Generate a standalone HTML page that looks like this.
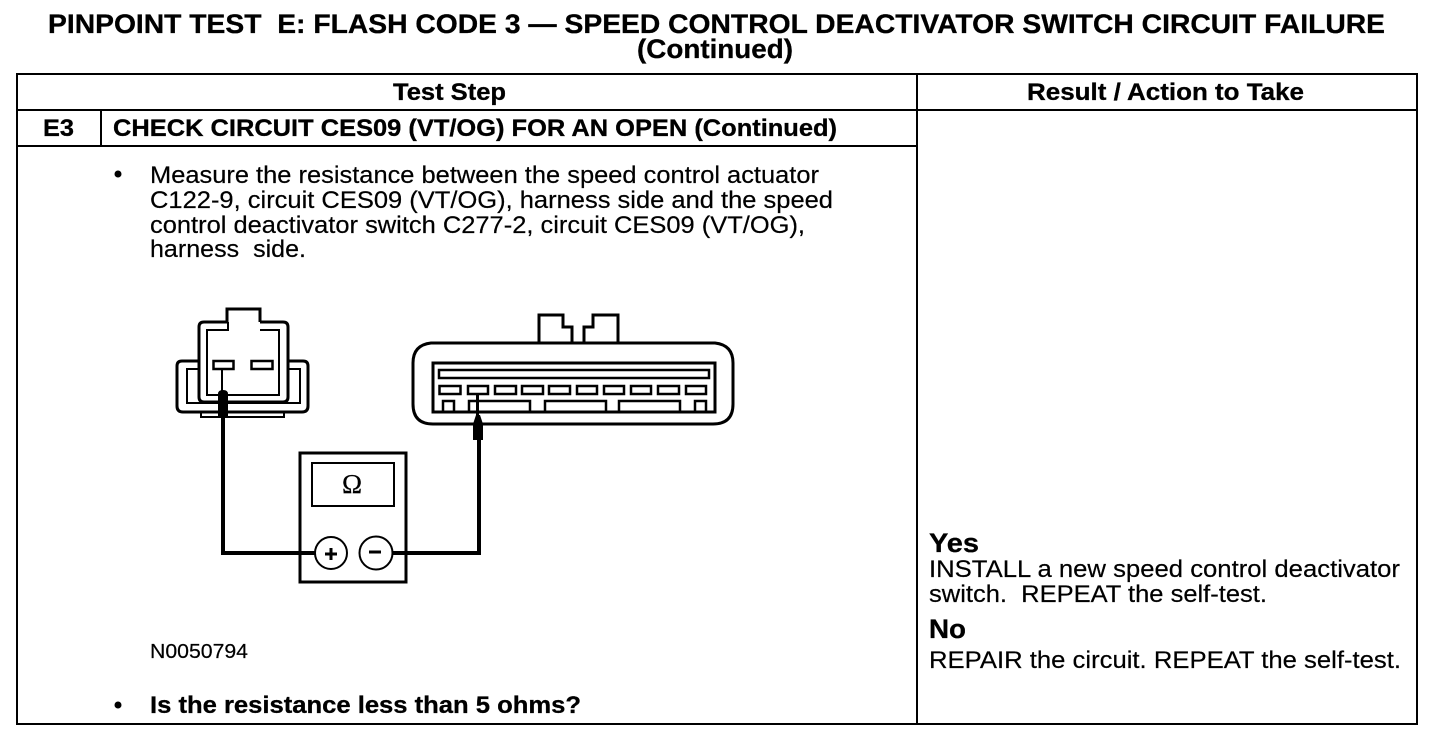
<!DOCTYPE html>
<html><head><meta charset="utf-8"><style>
html,body{margin:0;padding:0;background:#fff}
svg{display:block}
text{font-family:"Liberation Sans",sans-serif;fill:#000;stroke:#000;stroke-width:.2px}
.b{font-weight:bold;stroke-width:.3px}
</style></head><body>
<svg width="1456" height="740" viewBox="0 0 1456 740" xmlns="http://www.w3.org/2000/svg">
<rect width="1456" height="740" fill="#fff"/>
<text class="b" x="48" y="33" font-size="27" textLength="1337" lengthAdjust="spacingAndGlyphs">PINPOINT TEST&#160; E: FLASH CODE 3 — SPEED CONTROL DEACTIVATOR SWITCH CIRCUIT FAILURE</text>
<text class="b" x="637" y="58" font-size="27" textLength="156" lengthAdjust="spacingAndGlyphs">(Continued)</text>
<g fill="none" stroke="#000" stroke-width="2">
<rect x="17" y="74" width="1400" height="650"/>
<path d="M17 110H1417M917 74V724M17 146H917M101 110V146"/>
</g>
<text class="b" x="393" y="100" font-size="24" textLength="113" lengthAdjust="spacingAndGlyphs">Test Step</text>
<text class="b" x="1027" y="100" font-size="24" textLength="277" lengthAdjust="spacingAndGlyphs">Result / Action to Take</text>
<text class="b" x="43" y="136" font-size="24" textLength="31" lengthAdjust="spacingAndGlyphs">E3</text>
<text class="b" x="113" y="136" font-size="24" textLength="724" lengthAdjust="spacingAndGlyphs">CHECK CIRCUIT CES09 (VT/OG) FOR AN OPEN (Continued)</text>
<circle cx="118" cy="174" r="3.500" fill="#000"/>
<text x="150" y="183" font-size="24" textLength="669" lengthAdjust="spacingAndGlyphs">Measure the resistance between the speed control actuator</text>
<text x="150" y="208" font-size="24" textLength="683" lengthAdjust="spacingAndGlyphs">C122-9, circuit CES09 (VT/OG), harness side and the speed</text>
<text x="150" y="233" font-size="24" textLength="655" lengthAdjust="spacingAndGlyphs">control deactivator switch C277-2, circuit CES09 (VT/OG),</text>
<text x="150" y="257" font-size="24" textLength="156" lengthAdjust="spacingAndGlyphs">harness&#160; side.</text>
<g fill="none" stroke="#000">
<path d="M199 361H182Q177 361 177 366V406Q177 412 183 412H302Q308 412 308 406V366Q308 361 303 361H288" stroke-width="3"/>
<path d="M199 369H187V403H300V369H288" stroke-width="2"/>
<path d="M227 322V309H260V322" stroke-width="3"/>
<path d="M204 322H227M260 322H283Q288 322 288 327V397Q288 402 283 402H204Q199 402 199 397V327Q199 322 204 322" stroke-width="3"/>
<path d="M228 322V330H207V395H279V330H260" stroke-width="2"/>
<rect x="213.500" y="361" width="20" height="8" stroke-width="2.500"/>
<rect x="251.500" y="361" width="21" height="8" stroke-width="2.500"/>
<path d="M201 412V417H284V412" stroke-width="2"/>
</g>
<path d="M222 369V392" stroke="#000" stroke-width="2"/>
<path d="M218 417V394Q218 390 223 390Q228 390 228 394V417Z" fill="#000"/>
<path d="M223 417V553H315M392 553H479V440" fill="none" stroke="#000" stroke-width="4"/>
<g fill="none" stroke="#000">
<path d="M431 343H715Q733 345 733 363V404Q733 424 713 424H433Q413 424 413 404V363Q413 345 431 343Z" stroke-width="3"/>
<path d="M539 343V315H563V327H572V343M584 343V327H593V315H618V343" stroke-width="3"/>
<rect x="433" y="363" width="282" height="49" stroke-width="3"/>
<rect x="439" y="370" width="270" height="8" stroke-width="2.500"/>
<g stroke-width="2.500">
<rect x="439.500" y="386" width="21" height="8"/>
<rect x="468" y="386" width="20" height="8"/>
<rect x="495" y="386" width="21" height="8"/>
<rect x="522" y="386" width="21" height="8"/>
<rect x="549" y="386" width="21" height="8"/>
<rect x="577" y="386" width="20" height="8"/>
<rect x="604" y="386" width="20" height="8"/>
<rect x="631" y="386" width="20" height="8"/>
<rect x="658" y="386" width="21" height="8"/>
<rect x="686" y="386" width="20" height="8"/>
</g>
<path d="M443 412V401H454V412M469 412V401H530V412M545 412V401H606V412M619 412V401H680V412M695 412V401H706V412" stroke-width="2.500"/>
</g>
<path d="M477.500 394V418" stroke="#000" stroke-width="3"/>
<path d="M473 440V424L476 415H480L483 424V440Z" fill="#000"/>
<rect x="300" y="453" width="106" height="129" fill="none" stroke="#000" stroke-width="3"/>
<rect x="312" y="463" width="82" height="43" fill="none" stroke="#000" stroke-width="2"/>
<text x="352" y="493" font-size="27" text-anchor="middle" style="font-family:'Liberation Serif',serif">Ω</text>
<circle cx="331" cy="553" r="16" fill="#fff" stroke="#000" stroke-width="2"/>
<circle cx="376" cy="553" r="16.500" fill="#fff" stroke="#000" stroke-width="2"/>
<path d="M325 554H337M331 548V560M369 552H381" stroke="#000" stroke-width="3" fill="none"/>
<text x="150" y="658" font-size="20" textLength="98" lengthAdjust="spacingAndGlyphs">N0050794</text>
<circle cx="118" cy="705" r="3.500" fill="#000"/>
<text class="b" x="150" y="713" font-size="24" textLength="431" lengthAdjust="spacingAndGlyphs">Is the resistance less than 5 ohms?</text>
<text class="b" x="929" y="552" font-size="27" textLength="50" lengthAdjust="spacingAndGlyphs">Yes</text>
<text x="929" y="577" font-size="24" textLength="471" lengthAdjust="spacingAndGlyphs">INSTALL a new speed control deactivator</text>
<text x="929" y="602" font-size="24" textLength="338" lengthAdjust="spacingAndGlyphs">switch.&#160; REPEAT the self-test.</text>
<text class="b" x="929" y="638" font-size="27" textLength="37" lengthAdjust="spacingAndGlyphs">No</text>
<text x="929" y="668" font-size="24" textLength="472" lengthAdjust="spacingAndGlyphs">REPAIR the circuit. REPEAT the self-test.</text>
</svg>
</body></html>
